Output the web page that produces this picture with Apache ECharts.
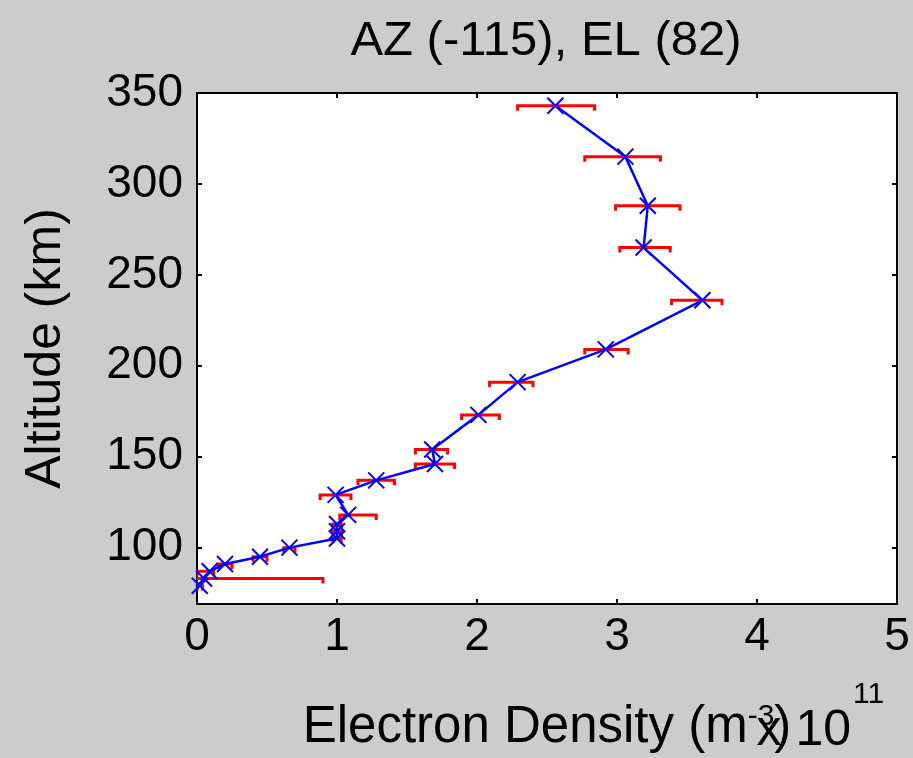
<!DOCTYPE html>
<html>
<head>
<meta charset="utf-8">
<script src="https://cdn.jsdelivr.net/npm/echarts@6/dist/echarts.min.js"></script>
<style>
html,body{margin:0;padding:0;background:#cccccc;}
#c{width:913px;height:758px;}
</style>
</head>
<body>
<div id="c"></div>
<script>
// Data (electron density in units of 1e11 m^-3, altitude km)
var density  = [0.02, 0.05, 0.09, 0.20, 0.45, 0.66, 1.00, 1.00, 1.00, 1.08, 0.99, 1.28, 1.70, 1.68, 2.01, 2.29, 2.92, 3.61, 3.19, 3.22, 3.06, 2.56];
var altitude = [79,   83,   87,   91,   95,   100,  105,  109,  113,  118,  129,  137,  146,  154,  173,  191,  209,  236,  265,  288,  315,  343];
var errLow   = [0.00, -0.80, 0.00, 0.15, 0.40, 0.62, 0.97, 0.97, 0.97, 1.02, 0.88, 1.15, 1.56, 1.56, 1.89, 2.09, 2.77, 3.39, 3.02, 2.99, 2.77, 2.29];
var errHigh  = [0.04, 0.90, 0.12, 0.25, 0.50, 0.70, 1.03, 1.03, 1.03, 1.28, 1.10, 1.41, 1.84, 1.79, 2.16, 2.40, 3.08, 3.75, 3.38, 3.45, 3.31, 2.84];
var yTicks   = [100, 150, 200, 250, 300, 350];
var xTicks   = [0, 1, 2, 3, 4, 5];
var titleText = 'AZ (-115), EL (82)';

var lineData = density.map(function(d,i){ return [d, altitude[i]]; });
var errData = altitude.map(function(a,i){ return [errLow[i], errHigh[i], a]; });

var FONT = 'Liberation Sans';
var TICK = 46, LAB = 50, SUP = 30;
var chart = echarts.init(document.getElementById('c'));
chart.setOption({
  backgroundColor: '#cccccc',
  animation: false,
  title: {
    text: titleText, left: 541, top: 12, textAlign: 'center',
    textStyle: {fontFamily: FONT, fontSize: 49, fontWeight: 'normal', color: '#000'}
  },
  grid: {left: 197, top: 93, right: 16, bottom: 154, show: true, backgroundColor: '#ffffff', borderColor: '#000', borderWidth: 0},
  xAxis: [{
    type: 'value', min: 0, max: 5, interval: 1, position: 'bottom',
    axisLine: {show: true, onZero: false, lineStyle: {color: '#000', width: 2}},
    axisTick: {show: true, inside: true, length: 5, lineStyle: {color: '#000', width: 2}},
    splitLine: {show: false},
    axisLabel: {fontFamily: FONT, fontSize: TICK, color: '#000', margin: 10},
    name: 'Electron Density (m{sup|-3}{n|)}',
    nameLocation: 'middle', nameGap: 98,
    nameTextStyle: {fontFamily: FONT, fontSize: 51, color: '#000', padding: [0, 0, 0, 0],
      rich: {sup: {fontFamily: FONT, fontSize: SUP, verticalAlign: 'top', color: '#000'},
             n: {fontFamily: FONT, fontSize: 51, color: '#000'}}}
  },{
    type: 'value', min: 0, max: 5, interval: 1, position: 'top',
    axisLine: {show: true, onZero: false, lineStyle: {color: '#000', width: 2}},
    axisTick: {show: true, inside: true, length: 5, lineStyle: {color: '#000', width: 2}},
    axisLabel: {show: false}, splitLine: {show: false}
  }],
  yAxis: [{
    type: 'value', min: 69, max: 350, position: 'left',
    axisLine: {show: true, onZero: false, lineStyle: {color: '#000', width: 2}},
    axisTick: {show: true, inside: true, length: 5, customValues: yTicks, lineStyle: {color: '#000', width: 2}},
    axisLabel: {fontFamily: FONT, fontSize: TICK, color: '#000', margin: 14, customValues: yTicks},
    splitLine: {show: false},
    name: 'Altitude (km)', nameLocation: 'middle', nameGap: 126, nameRotate: 90,
    nameTextStyle: {fontFamily: FONT, fontSize: LAB, color: '#000'}
  },{
    type: 'value', min: 69, max: 350, position: 'right',
    axisLine: {show: true, onZero: false, lineStyle: {color: '#000', width: 2}},
    axisTick: {show: true, inside: true, length: 5, customValues: yTicks, lineStyle: {color: '#000', width: 2}},
    axisLabel: {show: false}, splitLine: {show: false}
  }],
  graphic: [{
    type: 'text', right: 62, top: 706,
    style: {text: 'x 10', fontFamily: FONT, fontSize: LAB, fill: '#000'}
  },{
    type: 'text', left: 853, top: 680,
    style: {text: '11', fontFamily: FONT, fontSize: SUP, fill: '#000'}
  }],
  series: [{
    type: 'custom', name: 'err', clip: true, z: 2,
    data: errData,
    encode: {x: [0, 1], y: 2},
    renderItem: function(params, api){
      var y = api.value(2);
      var p1 = api.coord([api.value(0), y]);
      var p2 = api.coord([api.value(1), y]);
      var c = 5;
      return {type: 'polyline', shape: {points: [[p1[0], p1[1]+c],[p1[0], p1[1]],[p2[0], p2[1]],[p2[0], p2[1]+c]]},
        style: {stroke: '#ff0000', lineWidth: 3, fill: null}};
    }
  },{
    type: 'line', data: lineData, symbol: 'none', z: 3,
    lineStyle: {color: '#0000ff', width: 2.5}
  },{
    type: 'custom', name: 'marks', clip: false, z: 4,
    data: lineData,
    renderItem: function(params, api){
      var p = api.coord([api.value(0), api.value(1)]);
      var s = 8;
      return {type: 'group', children: [
        {type: 'line', shape: {x1: p[0]-s, y1: p[1]-s, x2: p[0]+s, y2: p[1]+s}, style: {stroke: '#0000ff', lineWidth: 2}},
        {type: 'line', shape: {x1: p[0]-s, y1: p[1]+s, x2: p[0]+s, y2: p[1]-s}, style: {stroke: '#0000ff', lineWidth: 2}}
      ]};
    }
  }]
});
</script>
</body>
</html>
